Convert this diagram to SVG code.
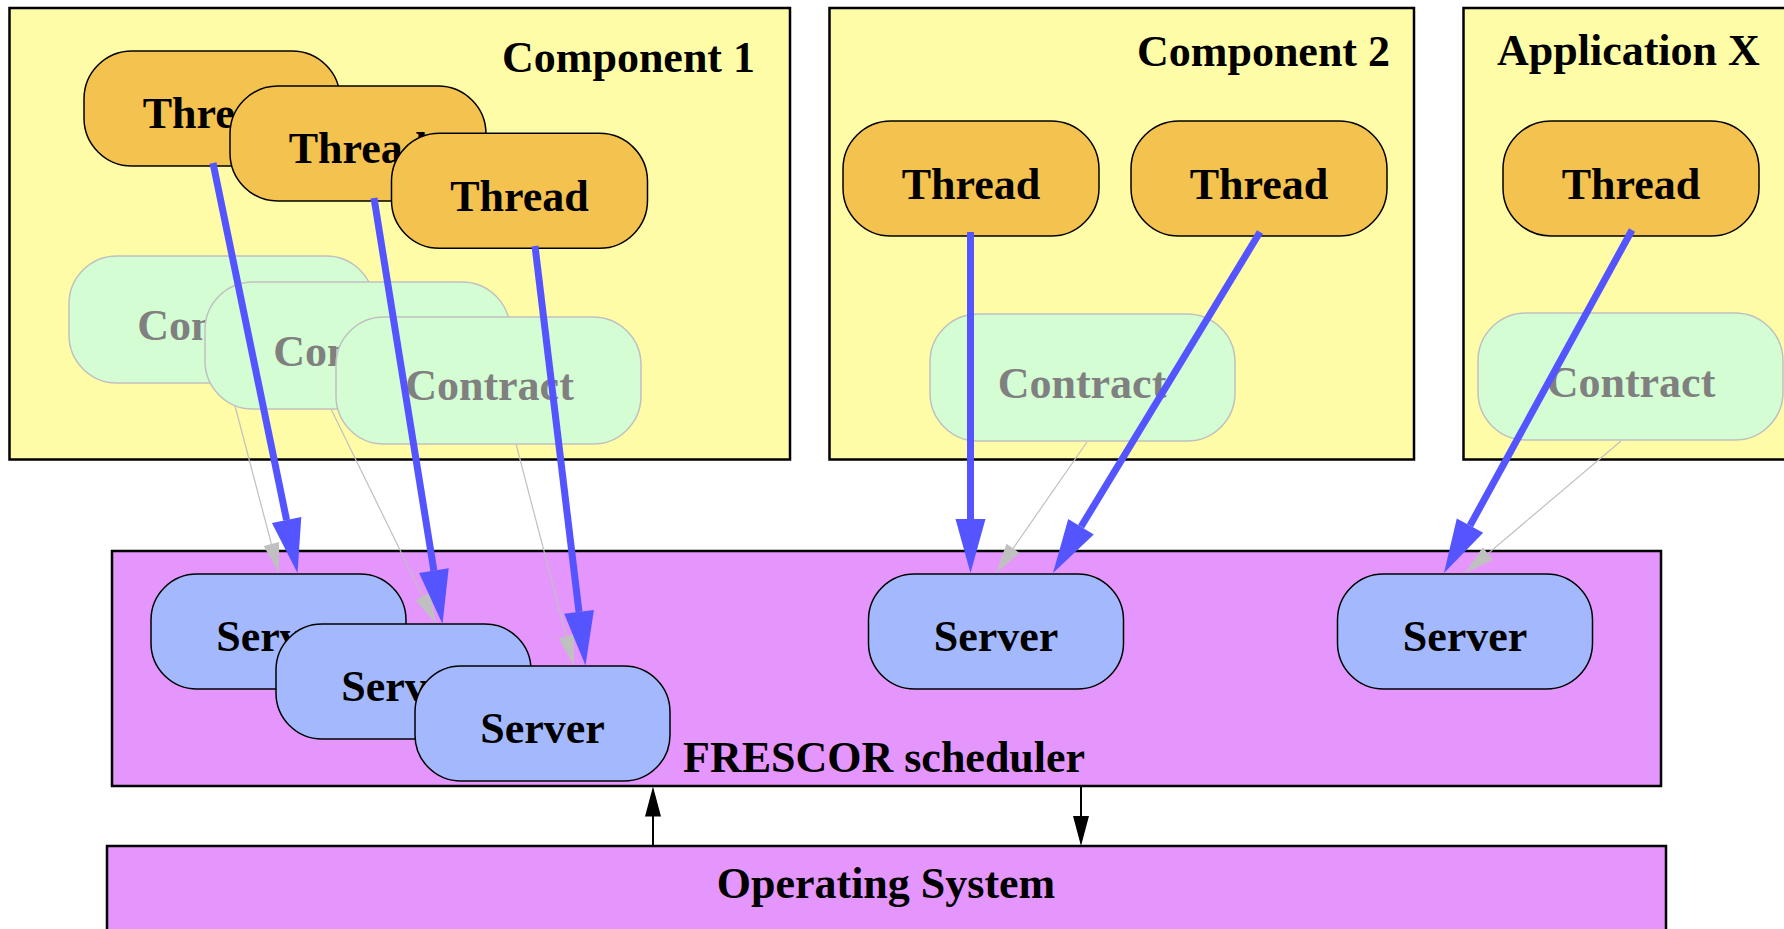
<svg xmlns="http://www.w3.org/2000/svg" width="1784" height="929" viewBox="0 0 1784 929">
<style>
text{font-family:"Liberation Serif","Times New Roman",serif;font-weight:bold;font-size:44px;fill:#000}
.box{fill:#fffca8;stroke:#000;stroke-width:2.5}
.sched{fill:#e596fc;stroke:#000;stroke-width:2.5}
.thread{fill:#f3c24f;stroke:#000;stroke-width:1.5}
.contract{fill:#d4fdd4;stroke:#c0c0c0;stroke-width:1.5}
.contract-t{fill:#808080}
.server{fill:#a4b9fd;stroke:#000;stroke-width:1.5}
.mid{text-anchor:middle}
.blue{stroke:#5555ff;stroke-width:7;fill:none}
.blueh{fill:#5555ff}
.gray{stroke:#c0c0c0;stroke-width:1.2;fill:none}
.grayh{fill:#c0c0c0}
.blk{stroke:#000;stroke-width:2;fill:none}
.blkh{fill:#000}
</style>
<g id="component1"><rect class="box" x="9.5" y="8" width="780.5" height="451.5"/><text x="502" y="72">Component 1</text></g>
<g id="component2"><rect class="box" x="829.5" y="8" width="584.5" height="451.5"/><text x="1137" y="66">Component 2</text></g>
<g id="applicationX"><rect class="box" x="1463.5" y="8" width="340" height="451.5"/><text x="1497" y="65">Application X</text></g>
<g id="frescor"><rect class="sched" x="112" y="551" width="1549" height="235"/><text x="683" y="772">FRESCOR scheduler</text></g>
<g id="os"><rect class="sched" x="107" y="846" width="1559" height="110"/><text class="mid" x="886" y="897.5">Operating System</text></g>
<g id="contract-edges">
<line class="gray" x1="229" y1="383" x2="271.4" y2="544"/><polygon class="grayh" points="279,573 263.7,546 279.1,542"/>
<line class="gray" x1="331" y1="409" x2="422.8" y2="596.6"/><polygon class="grayh" points="436,623.5 415.6,600.1 430,593.1"/>
<line class="gray" x1="516" y1="444" x2="566.4" y2="636.5"/><polygon class="grayh" points="574,665.5 558.7,638.5 574.1,634.5"/>
<line class="gray" x1="1087" y1="442" x2="1013.1" y2="548.4"/><polygon class="grayh" points="996,573 1006.5,543.8 1019.7,553"/>
<line class="gray" x1="1621" y1="441" x2="1487.9" y2="553.6"/><polygon class="grayh" points="1465,573 1482.7,547.5 1493.1,559.7"/>
</g>
<g id="contract1"><rect class="contract" x="69" y="256" width="305" height="127" rx="48" ry="48"/><text class="mid contract-t" x="221.5" y="340">Contract</text></g>
<g id="contract2"><rect class="contract" x="205" y="282" width="305" height="127" rx="48" ry="48"/><text class="mid contract-t" x="357.5" y="366">Contract</text></g>
<g id="contract3"><rect class="contract" x="336" y="317" width="305" height="127" rx="48" ry="48"/><text class="mid contract-t" x="489.5" y="400">Contract</text></g>
<g id="contract4"><rect class="contract" x="930" y="314" width="305" height="127" rx="48" ry="48"/><text class="mid contract-t" x="1082" y="398">Contract</text></g>
<g id="contract5"><rect class="contract" x="1478" y="313" width="305" height="127" rx="48" ry="48"/><text class="mid contract-t" x="1631" y="397">Contract</text></g>
<g id="thread1"><rect class="thread" x="84" y="51" width="256" height="115" rx="48" ry="48"/><text class="mid" x="212" y="128">Thread</text></g>
<g id="thread2"><rect class="thread" x="230" y="86" width="256" height="115" rx="48" ry="48"/><text class="mid" x="358" y="163">Thread</text></g>
<g id="thread3"><rect class="thread" x="391.5" y="133.3" width="256" height="115" rx="48" ry="48"/><text class="mid" x="519.5" y="210.5">Thread</text></g>
<g id="thread4"><rect class="thread" x="843" y="121" width="256" height="115" rx="48" ry="48"/><text class="mid" x="971" y="199">Thread</text></g>
<g id="thread5"><rect class="thread" x="1131" y="121" width="256" height="115" rx="48" ry="48"/><text class="mid" x="1259" y="199">Thread</text></g>
<g id="thread6"><rect class="thread" x="1503" y="121" width="256" height="115" rx="48" ry="48"/><text class="mid" x="1631" y="199">Thread</text></g>
<g id="server1"><rect class="server" x="151" y="574" width="255" height="115" rx="46" ry="46"/><text class="mid" x="278.5" y="651">Server</text></g>
<g id="server2"><rect class="server" x="276" y="624" width="255" height="115" rx="46" ry="46"/><text class="mid" x="403.5" y="701">Server</text></g>
<g id="server3"><rect class="server" x="415" y="666" width="255" height="115" rx="46" ry="46"/><text class="mid" x="542.5" y="743">Server</text></g>
<g id="server4"><rect class="server" x="868.5" y="574" width="255" height="115" rx="46" ry="46"/><text class="mid" x="996" y="651">Server</text></g>
<g id="server5"><rect class="server" x="1337.5" y="574" width="255" height="115" rx="46" ry="46"/><text class="mid" x="1465" y="651">Server</text></g>
<g id="connectors">
<line class="blue" x1="213" y1="163" x2="286.6" y2="520.1"/><polygon class="blueh" points="297.5,573 271.9,523.1 301.3,517.1"/>
<line class="blue" x1="374" y1="198" x2="433.9" y2="570.7"/><polygon class="blueh" points="442.5,624 419.1,573.1 448.7,568.3"/>
<line class="blue" x1="535" y1="246" x2="579" y2="611.9"/><polygon class="blueh" points="585.5,665.5 564.2,613.7 593.9,610.1"/>
<line class="blue" x1="970.5" y1="232" x2="970.5" y2="519"/><polygon class="blueh" points="970.5,573 955.5,519 985.5,519"/>
<line class="blue" x1="1260" y1="232" x2="1081" y2="526.8"/><polygon class="blueh" points="1053,573 1068.2,519 1093.8,534.6"/>
<line class="blue" x1="1632" y1="230" x2="1470" y2="525.6"/><polygon class="blueh" points="1444,573 1456.8,518.4 1483.2,532.8"/>
<line class="blk" x1="653" y1="846" x2="653" y2="815"/><polygon class="blkh" points="653,786.5 645,816.5 661,816.5"/>
<line class="blk" x1="1081" y1="786" x2="1081" y2="817"/><polygon class="blkh" points="1081,846 1073,816 1089,816"/>
</g>
</svg>
